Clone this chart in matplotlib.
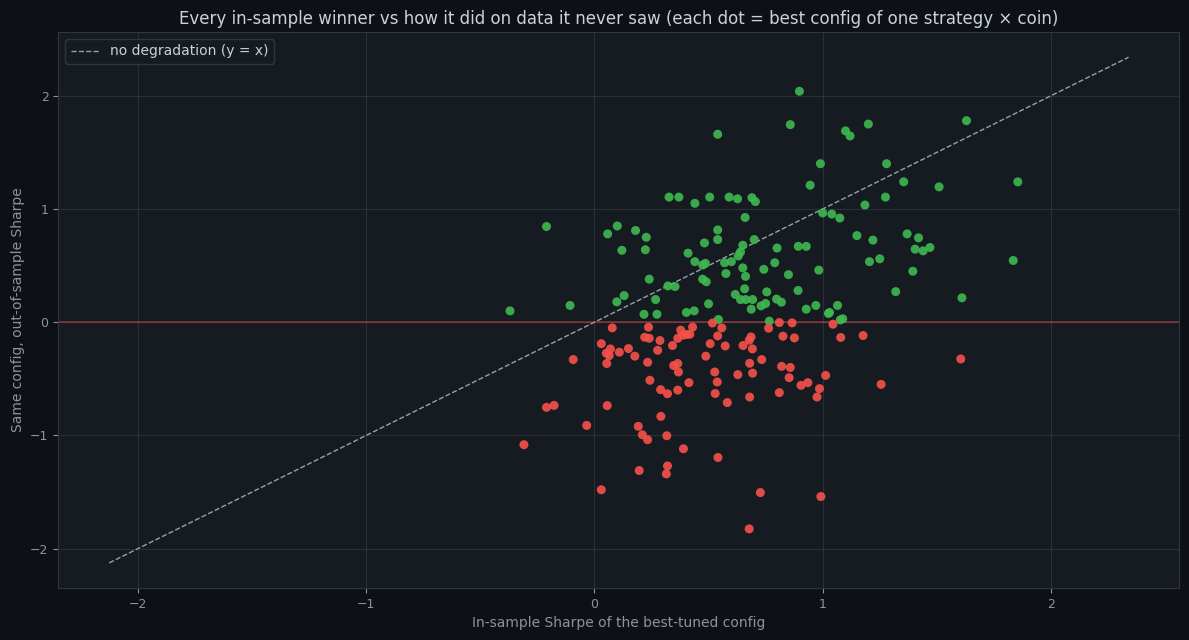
import numpy as np
import matplotlib
matplotlib.use("Agg")
import matplotlib.pyplot as plt

# in-sample Sharpe (x) and out-of-sample Sharpe (y), one entry per strategy x coin
in_sample = [
    0.898, 0.858, 0.54, 1.10, 1.12, 0.99, 0.945, 0.44, 0.505, 0.59,
    0.627, 0.69, 0.705, 0.66, 0.54, 0.54, 0.70, 1.00, 1.04, 1.075,
    1.15, -0.21, 0.058, 0.10, 0.18, 0.227, 0.327, 0.37, 1.20, 1.63,
    1.28, 1.355, 1.51, 1.855, 1.275, 1.185, 1.37, 1.42, 1.22, 1.405,
    1.44, 1.47, 1.205, 1.25, 1.835, 1.395, 1.32, 1.61, 0.12, 0.223,
    0.24, 0.322, 0.353, 0.13, 0.098, 0.268, 0.217, 0.274, -0.37, -0.107,
    0.482, 0.65, 0.41, 0.64, 0.63, 0.80, 0.893, 0.928, 0.44, 0.474,
    0.486, 0.57, 0.60, 0.79, 0.65, 0.742, 0.983, 0.85, 0.576, 0.662,
    0.474, 0.49, 0.617, 0.658, 0.755, 0.892, 0.64, 0.663, 0.693, 0.798,
    0.819, 0.75, 0.73, 0.50, 0.687, 0.403, 0.437, 0.928, 0.97, 1.065,
    1.025, 1.03, 0.543, 0.766, 1.077, 1.088,
    0.078, 0.237, 0.22, 0.24, 0.287, 0.03, 0.07, 0.052, 0.065, 0.109,
    0.149, 0.177, 0.277, 0.342, 0.378, 0.365, -0.093, 0.054, 0.233, 0.347,
    0.365, 0.368, 0.243, 0.29, 0.32, 0.365, -0.21, -0.177, 0.056, 0.291,
    -0.034, 0.192, 0.21, 0.233, 0.317, -0.309, 0.32, 0.196, 0.315, 0.03,
    0.582, 0.39, 0.541, 0.727, 0.992, 0.678, 1.177, 1.605, 1.256, 0.517,
    0.558, 0.43, 0.403, 0.418, 0.388, 0.54, 0.507, 0.573, 0.651, 0.686,
    0.678, 0.692, 0.763, 0.81, 0.866, 0.826, 0.876, 1.045, 1.079, 0.488,
    0.733, 0.68, 0.82, 0.858, 0.527, 0.693, 0.628, 0.853, 1.013, 0.538,
    0.414, 0.905, 0.935, 0.986, 0.529, 0.81, 0.975, 0.68,
]
out_sample = [
    2.04, 1.745, 1.66, 1.69, 1.645, 1.40, 1.21, 1.05, 1.105, 1.105,
    1.09, 1.10, 1.065, 0.925, 0.815, 0.73, 0.73, 0.965, 0.955, 0.92,
    0.765, 0.845, 0.78, 0.85, 0.81, 0.75, 1.105, 1.105, 1.75, 1.78,
    1.40, 1.24, 1.195, 1.24, 1.105, 1.035, 0.78, 0.745, 0.725, 0.645,
    0.63, 0.66, 0.535, 0.56, 0.545, 0.45, 0.27, 0.215, 0.635, 0.64,
    0.38, 0.32, 0.315, 0.235, 0.18, 0.20, 0.07, 0.07, 0.10, 0.148,
    0.70, 0.68, 0.61, 0.62, 0.585, 0.655, 0.67, 0.67, 0.535, 0.505,
    0.52, 0.525, 0.535, 0.525, 0.48, 0.467, 0.46, 0.42, 0.43, 0.405,
    0.38, 0.357, 0.245, 0.295, 0.268, 0.28, 0.20, 0.20, 0.20, 0.204,
    0.177, 0.165, 0.144, 0.162, 0.115, 0.086, 0.10, 0.115, 0.148, 0.148,
    0.077, 0.086, 0.024, 0.009, 0.02, 0.03,
    -0.05, -0.044, -0.133, -0.142, -0.162, -0.19, -0.236, -0.274, -0.295, -0.265,
    -0.233, -0.30, -0.248, -0.206, -0.07, -0.142, -0.33, -0.365, -0.354, -0.383,
    -0.365, -0.44, -0.513, -0.596, -0.632, -0.60, -0.752, -0.735, -0.737, -0.832,
    -0.912, -0.92, -0.994, -1.038, -1.003, -1.082, -1.27, -1.31, -1.34, -1.48,
    -0.71, -1.118, -1.195, -1.505, -1.54, -1.826, -0.118, -0.325, -0.549, -0.007,
    -0.05, -0.044, -0.109, -0.106, -0.115, -0.121, -0.19, -0.21, -0.206, -0.13,
    -0.16, -0.236, -0.053, -0.003, -0.006, -0.124, -0.139, -0.018, -0.135, -0.30,
    -0.33, -0.363, -0.39, -0.40, -0.44, -0.45, -0.463, -0.49, -0.47, -0.528,
    -0.534, -0.558, -0.534, -0.587, -0.63, -0.622, -0.661, -0.661,
]

BG_FIG = '#0d1117'
BG_AX = '#161b22'
GRID = '#30363d'
TEXT = '#c9d1d9'
MUTED = '#8b949e'
GREEN = '#3fb950'
RED = '#f85149'


def main():
    x = np.array(in_sample)
    y = np.array(out_sample)

    fig, ax = plt.subplots(figsize=(11.89, 6.4), dpi=100)
    fig.patch.set_facecolor(BG_FIG)
    ax.set_facecolor(BG_AX)
    fig.subplots_adjust(left=0.049, right=0.992, top=0.95, bottom=0.081)

    colors = np.where(y > 0, GREEN, RED)
    ax.scatter(x, y, c=colors, s=42, alpha=0.9, linewidths=0, zorder=3)

    lo = min(x.min(), y.min()) - 0.3
    hi = max(x.max(), y.max()) + 0.3
    ax.plot([lo, hi], [lo, hi], ls='--', color='#9aa0a8', lw=1,
            label='no degradation (y = x)', zorder=2)
    ax.axhline(0, color=RED, alpha=0.45, lw=1.2, zorder=2)

    ax.grid(True, color=GRID, lw=0.8, alpha=0.8)
    ax.set_axisbelow(True)
    for sp in ax.spines.values():
        sp.set_color(GRID)
    ax.tick_params(colors=MUTED, labelsize=9)
    ax.set_xticks([-2, -1, 0, 1, 2])
    ax.set_yticks([-2, -1, 0, 1, 2])

    ax.set_xlabel('In-sample Sharpe of the best-tuned config', color=MUTED, fontsize=10)
    ax.set_ylabel('Same config, out-of-sample Sharpe', color=MUTED, fontsize=10)
    ax.set_title('Every in-sample winner vs how it did on data it never saw '
                 '(each dot = best config of one strategy \u00d7 coin)',
                 color=TEXT, fontsize=12)

    leg = ax.legend(loc='upper left', facecolor=BG_AX, edgecolor=GRID,
                    fontsize=10, labelcolor=TEXT)
    leg.get_frame().set_alpha(1)

    fig.savefig('out.png', dpi=100, facecolor=BG_FIG)


if __name__ == '__main__':
    main()
